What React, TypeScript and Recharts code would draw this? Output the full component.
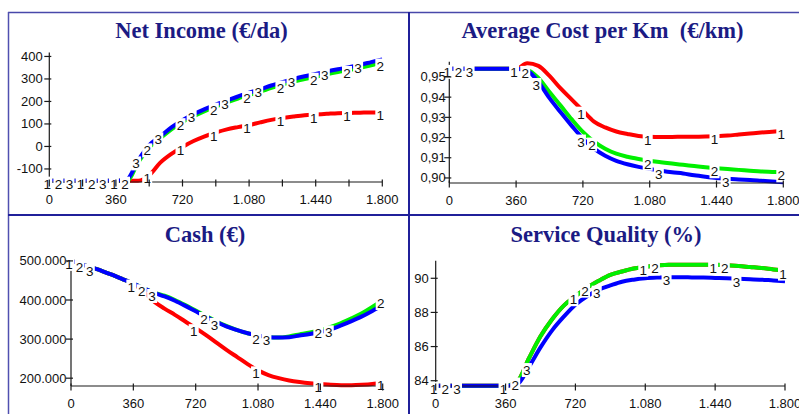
import { LineChart, Line, XAxis, YAxis } from 'recharts'

const W = 799
const H = 414
const NAVY = '#1b1b84'
const AXIS = '#1a1a1a'
const SANS = '"Liberation Sans", Arial, sans-serif'
const SERIF = '"Liberation Serif", "Times New Roman", serif'
const COLORS = ['#ff0000', '#00f000', '#0000ff']

// time axis (days)
const days = [0, 60, 120, 180, 240, 300, 360, 420, 480, 540, 600, 660, 720, 780, 840, 900,
  960, 1020, 1080, 1140, 1200, 1260, 1320, 1380, 1440, 1500, 1560, 1620, 1680, 1740, 1800]

// ── Net Income (€/da) ──
const netIncome1 = [-152, -152, -152, -152, -152, -152, -152, -152, -152, -128, -72, -33, -2, 24, 45, 62,
  76, 86, 95, 107, 118, 126, 133, 139, 142, 145, 148, 149, 150, 151, 151]
const netIncome2 = [-152, -152, -152, -152, -152, -152, -152, -152, -72, -4, 36, 76, 108, 134, 157, 177,
  195, 213, 229, 244, 260, 275, 288, 300, 310, 321, 331, 340, 350, 361, 373]
const netIncome3 = [-152, -152, -152, -152, -152, -152, -152, -145, -62, 6, 45, 85, 117, 143, 166, 186,
  204, 222, 239, 254, 271, 286, 300, 312, 322, 333, 343, 352, 363, 375, 387]

// ── Average Cost per Km (€/km) ──
const avgCost1 = [0.954, 0.954, 0.954, 0.954, 0.954, 0.954, 0.954, 0.9568, 0.9555, 0.9505, 0.9443, 0.9388,
  0.9333, 0.9279, 0.925, 0.923, 0.9218, 0.9208, 0.9204, 0.9203, 0.9203, 0.9204, 0.9204, 0.9205, 0.9207,
  0.921, 0.9215, 0.922, 0.9225, 0.9229, 0.9233]
const avgCost2 = [0.954, 0.954, 0.954, 0.954, 0.954, 0.954, 0.954, 0.9535, 0.9495, 0.9425, 0.9358, 0.929,
  0.9228, 0.918, 0.9145, 0.912, 0.9105, 0.9094, 0.9085, 0.9078, 0.9071, 0.9065, 0.9059, 0.9053, 0.9048,
  0.9044, 0.904, 0.9036, 0.9032, 0.903, 0.9028]
const avgCost3 = [0.954, 0.954, 0.954, 0.954, 0.954, 0.954, 0.954, 0.953, 0.9475, 0.9395, 0.9325, 0.9258,
  0.9195, 0.9145, 0.911, 0.9085, 0.9068, 0.9055, 0.9045, 0.9036, 0.9028, 0.9022, 0.9013, 0.9006, 0.9,
  0.8996, 0.8992, 0.899, 0.8986, 0.8982, 0.8979]

// ── Cash (€) ──
const cash1 = [500000, 492000, 483000, 474000, 464000, 453000, 442000, 420000, 396000, 378000, 362000,
  345000, 328000, 310000, 291000, 272000, 254000, 236000, 220000, 208000, 200000, 194000, 190000, 187000,
  185000, 183000, 182000, 182000, 183000, 185000, 189000]
const cash2 = [500000, 492000, 483000, 474000, 464000, 453000, 442000, 430000, 419000, 411000, 400000,
  387000, 373000, 359000, 345000, 333000, 323000, 315000, 309000, 305000, 304000, 307000, 312000, 317000,
  323000, 331000, 341000, 353000, 366000, 382000, 400000]
const cash3 = [500000, 492000, 483000, 474000, 464000, 453000, 442000, 430000, 418000, 409000, 398000,
  385000, 371000, 357000, 344000, 332000, 323000, 315000, 309000, 305000, 304000, 305000, 309000, 313000,
  318000, 325000, 335000, 346000, 358000, 372000, 387000]

// ── Service Quality (%) ──
const quality1 = [83.7, 83.7, 83.7, 83.7, 83.7, 83.7, 83.7, 83.95, 85.3, 86.6, 87.6, 88.4, 88.95, 89.45,
  89.85, 90.2, 90.4, 90.57, 90.68, 90.75, 90.8, 90.8, 90.8, 90.8, 90.8, 90.76, 90.72, 90.66, 90.6, 90.52, 90.45]
const quality2 = [83.7, 83.7, 83.7, 83.7, 83.7, 83.7, 83.7, 83.95, 85.3, 86.6, 87.6, 88.4, 88.95, 89.45,
  89.85, 90.2, 90.4, 90.57, 90.68, 90.75, 90.8, 90.8, 90.8, 90.8, 90.8, 90.76, 90.72, 90.66, 90.6, 90.52, 90.45]
const quality3 = [83.7, 83.7, 83.7, 83.7, 83.7, 83.7, 83.7, 83.8, 84.8, 85.95, 86.95, 87.75, 88.45, 88.95,
  89.33, 89.58, 89.8, 89.92, 90.0, 90.04, 90.06, 90.06, 90.05, 90.04, 90.02, 90.0, 89.97, 89.95, 89.92, 89.87, 89.83]

// days where the run numbers 1/2/3 are written on the curves
const netIncomeMarks = [
  [0, 180, 360, 540, 720, 900, 1080, 1260, 1440, 1620, 1800],
  [60, 240, 420, 540, 720, 900, 1080, 1260, 1440, 1620, 1800],
  [120, 300, 480, 600, 780, 960, 1140, 1320, 1500, 1680],
]
const avgCostMarks = [
  [0, 360, 720, 1080, 1440, 1800],
  [60, 420, 780, 1080, 1440, 1800],
  [120, 480, 720, 1140, 1500],
]
const cashMarks = [
  [0, 360, 720, 1080, 1440, 1800],
  [60, 420, 780, 1080, 1440, 1800],
  [120, 480, 840, 1140, 1500],
]
const qualityMarks = [
  [0, 360, 720, 1080, 1440, 1800],
  [60, 420, 780, 1140, 1500],
  [120, 480, 840, 1200, 1560],
]

const xTicksFine = [0, 180, 360, 540, 720, 900, 1080, 1260, 1440, 1620, 1800]
const xTicks = [0, 360, 720, 1080, 1440, 1800]

const rows = (a: number[], b: number[], c: number[]) =>
  days.map((d, i) => ({ day: d, s1: a[i], s2: b[i], s3: c[i] }))

const dots = (v: number) => String(v).replace(/\B(?=(\d{3})+(?!\d))/g, '.')

const YW = 40
const XH = 30

interface PanelProps {
  data: { day: number; s1: number; s2: number; s3: number }[]
  left: number
  right: number
  top: number
  bottom: number
  yDomain: [number, number]
  yTicks: number[]
  yFormat: (v: number) => string
  yGap: number
  xTicks: number[]
  marks: number[][]
}

function Panel({ data, left, right, top, bottom, yDomain, yTicks, yFormat, yGap, xTicks, marks }: PanelProps) {
  const XTick = (p: any) => {
    const { x, y, payload } = p
    return (
      <g>
        <line x1={x} x2={x} y1={y - 2.5} y2={y + 4.5} stroke={AXIS} strokeWidth={1.2} />
        {payload.value % 360 === 0 && (
          <text x={x} y={y + 22} textAnchor="middle" fontSize={13} fontFamily={SANS} fill="#111">
            {dots(payload.value)}
          </text>
        )}
      </g>
    )
  }
  const YTick = (p: any) => {
    const { x, y, payload } = p
    return (
      <g>
        <line x1={x - 5} x2={x + 2} y1={y} y2={y} stroke={AXIS} strokeWidth={1.2} />
        <text x={x - yGap} y={y + 4.5} textAnchor="end" fontSize={13} fontFamily={SANS} fill="#111">
          {yFormat(payload.value)}
        </text>
      </g>
    )
  }
  const mark = (n: number, list: number[]) => (p: any) => {
    const { cx, cy, payload, index } = p
    if (!list.includes(payload.day) || cx == null || cy == null) return <g key={`m${n}-${index}`} />
    return (
      <g key={`m${n}-${index}`}>
        <rect x={cx - 7} y={cy - 4} width={10} height={14} fill="#fff" />
        <text x={cx - 2} y={cy + 8} textAnchor="middle" fontSize={13.5} fontFamily={SANS} fill="#111">{n}</text>
      </g>
    )
  }
  const keys = ['s1', 's2', 's3']
  return (
    <div style={{ position: 'absolute', left: 0, top: 0 }}>
      <LineChart width={W} height={H} data={data}
        margin={{ top, left: left - YW, right: W - right, bottom: H - bottom - XH }}>
        <XAxis dataKey="day" type="number" domain={[0, 1800]} ticks={xTicks} interval={0} height={XH}
          tickLine={false} tickSize={0} tickMargin={0} axisLine={{ stroke: AXIS, strokeWidth: 1.2 }} tick={XTick} />
        <YAxis type="number" domain={yDomain} ticks={yTicks} interval={0} width={YW}
          tickLine={false} tickSize={0} tickMargin={0} axisLine={{ stroke: AXIS, strokeWidth: 1.2 }} tick={YTick} />
        {keys.map((k, i) => (
          <Line key={k} dataKey={k} type="monotone" stroke={COLORS[i]} strokeWidth={4}
            dot={false} activeDot={false} isAnimationActive={false} />
        ))}
        {keys.map((k, i) => (
          <Line key={'lbl' + k} dataKey={k} stroke="none" legendType="none"
            dot={mark(i + 1, marks[i])} activeDot={false} isAnimationActive={false} />
        ))}
      </LineChart>
    </div>
  )
}

export default function App() {
  return (
    <div style={{ position: 'absolute', left: 0, top: 0, width: W, height: H, background: '#fff', overflow: 'hidden' }}>
      <svg width={W} height={H} style={{ position: 'absolute', left: 0, top: 0 }}>
        <line x1={8} x2={W} y1={12.5} y2={12.5} stroke="#4848aa" strokeWidth={1.5} />
        <line x1={8.5} x2={8.5} y1={12} y2={H} stroke="#5050b0" strokeWidth={1.5} />
        <line x1={409} x2={409} y1={12} y2={H} stroke="#20209a" strokeWidth={2} />
        <line x1={8} x2={W} y1={215} y2={215} stroke="#20209a" strokeWidth={2} />
        <g fontFamily={SERIF} fontWeight="bold" fontSize={22.5} fill={NAVY} textAnchor="middle">
          <text x={201.5} y={37.5}>Net Income (€/da)</text>
          <text x={602.5} y={37.5} style={{ whiteSpace: 'pre' }}>{'Average Cost per Km  (€/km)'}</text>
          <text x={205} y={241.7}>Cash (€)</text>
          <text x={606} y={241.7}>Service Quality (%)</text>
        </g>
      </svg>
      <Panel data={rows(netIncome1, netIncome2, netIncome3)} left={49.3} right={382.3} top={52.4} bottom={182}
        yDomain={[-158, 418]} yTicks={[-100, 0, 100, 200, 300, 400]} yFormat={(v) => String(v)} yGap={6.5}
        xTicks={xTicksFine} marks={netIncomeMarks} />
      <Panel data={rows(avgCost1, avgCost2, avgCost3)} left={449.3} right={783.3} top={61.8} bottom={183}
        yDomain={[0.8975, 0.9575]} yTicks={[0.9, 0.91, 0.92, 0.93, 0.94, 0.95]}
        yFormat={(v) => v.toFixed(2).replace('.', ',')} yGap={3.5} xTicks={xTicks} marks={avgCostMarks} />
      <Panel data={rows(cash1, cash2, cash3)} left={71} right={382.7} top={257} bottom={386}
        yDomain={[180000, 510000]} yTicks={[200000, 300000, 400000, 500000]} yFormat={dots} yGap={4.5}
        xTicks={xTicks} marks={cashMarks} />
      <Panel data={rows(quality1, quality2, quality3)} left={435.7} right={785} top={260.7} bottom={386}
        yDomain={[83.69, 91.03]} yTicks={[84, 86, 88, 90]} yFormat={(v) => String(v)} yGap={7}
        xTicks={xTicks} marks={qualityMarks} />
    </div>
  )
}
